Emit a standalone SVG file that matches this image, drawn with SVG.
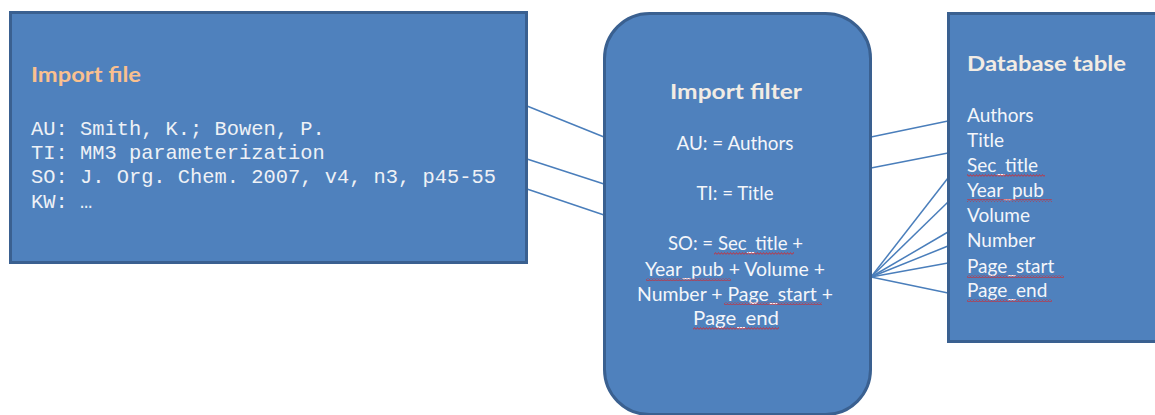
<svg xmlns="http://www.w3.org/2000/svg" width="1155" height="415" viewBox="0 0 1155 415">
<defs>
<style>
.box{fill:#4F81BD;stroke:#3A6090;stroke-width:3}
.title{font-family:Lato,"Liberation Sans",sans-serif;font-weight:bold;font-size:20px}
.body{font-family:Lato,"Liberation Sans",sans-serif;font-size:19px;fill:#F4F6FA}
.mono{font-family:"Liberation Mono","DejaVu Sans Mono",monospace;font-size:20.4px;fill:#EEF1F6}
.conn line{stroke:#4A7EBB;stroke-width:1.5}
.sq{fill:url(#squig)}
</style>
<pattern id="squig" width="3" height="3" patternUnits="userSpaceOnUse">
<path d="M0,2.6 L1.5,0.6 L3,2.6" fill="none" stroke="#E02020" stroke-width="0.8"/>
</pattern>
</defs>
<rect width="1155" height="415" fill="#FFFFFF"/>
<g class="conn" id="connectors">
<line x1="527" y1="106" x2="604" y2="137"/>
<line x1="527" y1="159" x2="604" y2="184"/>
<line x1="527" y1="189" x2="604" y2="215"/>
<line x1="871" y1="137" x2="948" y2="121"/>
<line x1="871" y1="168" x2="948" y2="153"/>
<line x1="871" y1="277" x2="948" y2="178"/>
<line x1="871" y1="277" x2="948" y2="202"/>
<line x1="871" y1="277" x2="948" y2="232"/>
<line x1="871" y1="277" x2="948" y2="246"/>
<line x1="871" y1="277" x2="948" y2="263"/>
<line x1="871" y1="277" x2="948" y2="293"/>
</g>
<g id="import-file">
<rect class="box" x="10.5" y="12.5" width="516" height="250"/>
<text class="title" x="31" y="82" fill="#FAC08F" textLength="110" lengthAdjust="spacingAndGlyphs">Import file</text>
<text class="mono" x="31" y="135" xml:space="preserve">AU: Smith, K.; Bowen, P.</text>
<text class="mono" x="31" y="159" xml:space="preserve">TI: MM3 parameterization</text>
<text class="mono" x="31" y="183" xml:space="preserve">SO: J. Org. Chem. 2007, v4, n3, p45-55</text>
<text class="mono" x="31" y="208" xml:space="preserve">KW: …</text>
</g>
<g id="import-filter">
<rect class="box" x="604.5" y="13.5" width="266" height="401" rx="45" ry="45"/>
<text class="title" x="736" y="99" text-anchor="middle" fill="#F2ECE4" textLength="132" lengthAdjust="spacingAndGlyphs">Import filter</text>
<text class="body" x="735" y="150" text-anchor="middle" textLength="117" lengthAdjust="spacingAndGlyphs">AU: = Authors</text>
<text class="body" x="735" y="200" text-anchor="middle" textLength="77" lengthAdjust="spacingAndGlyphs">TI: = Title</text>
<text class="body" x="735.5" y="250" text-anchor="middle" textLength="135" lengthAdjust="spacingAndGlyphs">SO: = Sec_title +</text>
<text class="body" x="735" y="276" text-anchor="middle" textLength="180" lengthAdjust="spacingAndGlyphs">Year_pub + Volume +</text>
<text class="body" x="735" y="301" text-anchor="middle" textLength="196" lengthAdjust="spacingAndGlyphs">Number + Page_start +</text>
<text class="body" x="736" y="325" text-anchor="middle" textLength="86" lengthAdjust="spacingAndGlyphs">Page_end</text>
<rect class="sq" x="714" y="252" width="80" height="3"/>
<rect class="sq" x="646" y="278" width="85" height="3"/>
<rect class="sq" x="724" y="302" width="98" height="3"/>
<rect class="sq" x="693" y="327" width="86" height="3"/>
</g>
<g id="database-table">
<rect class="box" x="948.5" y="13.5" width="220" height="328"/>
<text class="title" x="967" y="71" fill="#F2ECE4" textLength="159" lengthAdjust="spacingAndGlyphs">Database table</text>
<text class="body" x="967" y="122">Authors</text>
<text class="body" x="967" y="147">Title</text>
<text class="body" x="967" y="172">Sec_title</text>
<text class="body" x="967" y="197">Year_pub</text>
<text class="body" x="967" y="222">Volume</text>
<text class="body" x="967" y="247">Number</text>
<text class="body" x="967" y="273">Page_start</text>
<text class="body" x="967" y="297">Page_end</text>
<rect class="sq" x="967" y="174" width="78" height="3"/>
<rect class="sq" x="967" y="199" width="85" height="3"/>
<rect class="sq" x="967" y="275" width="97" height="3"/>
<rect class="sq" x="967" y="299" width="85" height="3"/>
</g>
</svg>
